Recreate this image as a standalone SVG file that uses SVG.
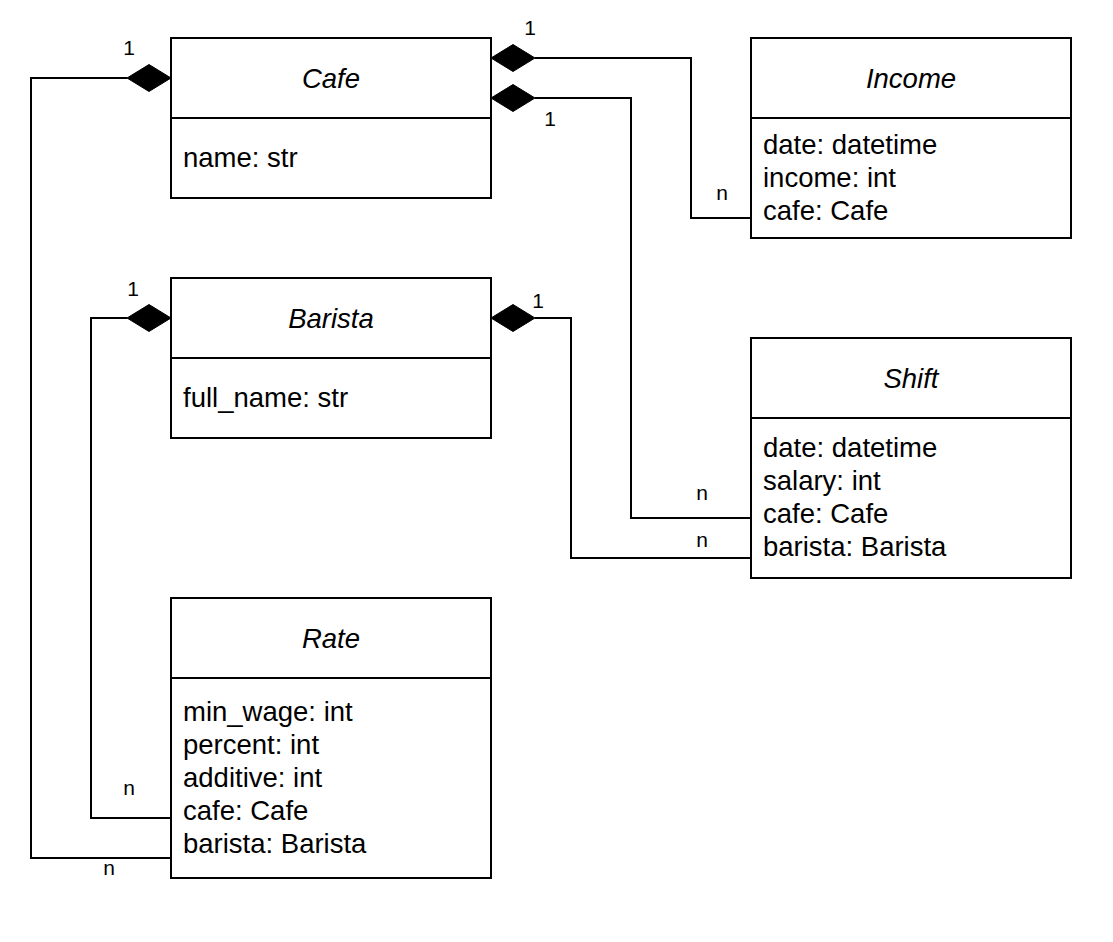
<svg xmlns="http://www.w3.org/2000/svg" width="1113" height="942" viewBox="0 0 1113 942">
<style>
.box{fill:#fff;stroke:#000;stroke-width:2}
.div{stroke:#000;stroke-width:2}
.title{font-family:"Liberation Sans",Arial,sans-serif;font-size:27.5px;font-style:italic;text-anchor:middle;fill:#000}
.attr{font-family:"Liberation Sans",Arial,sans-serif;font-size:27.5px;fill:#000}
.lbl{font-family:"Liberation Sans",Arial,sans-serif;font-size:21px;text-anchor:middle;fill:#000}
.conn{fill:none;stroke:#000;stroke-width:2}
.dia{fill:#000;stroke:#000;stroke-width:1}
</style>
<rect width="1113" height="942" fill="#fff"/>
<g id="connectors">
  <polyline class="conn" points="127,78 31,78 31,858 171,858"/>
  <polygon class="dia" points="171,78 149,64.5 127,78 149,91.5"/>
  <text class="lbl" x="129" y="55">1</text>
  <text class="lbl" x="109" y="875">n</text>

  <polyline class="conn" points="535,58 691,58 691,218 751,218"/>
  <polygon class="dia" points="491,58 513,44.5 535,58 513,71.5"/>
  <text class="lbl" x="530" y="35">1</text>
  <text class="lbl" x="722" y="200">n</text>

  <polyline class="conn" points="535,98 631,98 631,518 751,518"/>
  <polygon class="dia" points="491,98 513,84.5 535,98 513,111.5"/>
  <text class="lbl" x="550" y="126">1</text>
  <text class="lbl" x="702" y="500">n</text>

  <polyline class="conn" points="127,318 91,318 91,818 171,818"/>
  <polygon class="dia" points="171,318 149,304.5 127,318 149,331.5"/>
  <text class="lbl" x="133" y="296">1</text>
  <text class="lbl" x="129" y="795">n</text>

  <polyline class="conn" points="535,318 571,318 571,558 751,558"/>
  <polygon class="dia" points="491,318 513,304.5 535,318 513,331.5"/>
  <text class="lbl" x="538" y="308">1</text>
  <text class="lbl" x="702" y="547">n</text>
</g>
<g id="cafe">
  <rect class="box" x="171" y="38" width="320" height="160"/>
  <line class="div" x1="171" y1="118" x2="491" y2="118"/>
  <text class="title" x="331" y="87.5">Cafe</text>
  <text class="attr" x="183" y="167">name: str</text>
</g>
<g id="income">
  <rect class="box" x="751" y="38" width="320" height="200"/>
  <line class="div" x1="751" y1="118" x2="1071" y2="118"/>
  <text class="title" x="911" y="87.5">Income</text>
  <text class="attr" x="763" y="154">date: datetime</text>
  <text class="attr" x="763" y="187">income: int</text>
  <text class="attr" x="763" y="220">cafe: Cafe</text>
</g>
<g id="barista">
  <rect class="box" x="171" y="278" width="320" height="160"/>
  <line class="div" x1="171" y1="358" x2="491" y2="358"/>
  <text class="title" x="331" y="327.5">Barista</text>
  <text class="attr" x="183" y="407">full_name: str</text>
</g>
<g id="shift">
  <rect class="box" x="751" y="338" width="320" height="240"/>
  <line class="div" x1="751" y1="418" x2="1071" y2="418"/>
  <text class="title" x="911" y="387.5">Shift</text>
  <text class="attr" x="763" y="457">date: datetime</text>
  <text class="attr" x="763" y="490">salary: int</text>
  <text class="attr" x="763" y="523">cafe: Cafe</text>
  <text class="attr" x="763" y="556">barista: Barista</text>
</g>
<g id="rate">
  <rect class="box" x="171" y="598" width="320" height="280"/>
  <line class="div" x1="171" y1="678" x2="491" y2="678"/>
  <text class="title" x="331" y="647.5">Rate</text>
  <text class="attr" x="183" y="720.5">min_wage: int</text>
  <text class="attr" x="183" y="753.5">percent: int</text>
  <text class="attr" x="183" y="786.5">additive: int</text>
  <text class="attr" x="183" y="819.5">cafe: Cafe</text>
  <text class="attr" x="183" y="852.5">barista: Barista</text>
</g>
</svg>
